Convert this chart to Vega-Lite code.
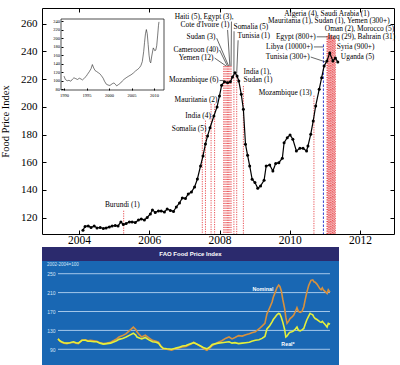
{
  "$schema": "https://vega.github.io/schema/vega-lite/v6.json",
  "background": "white",
  "padding": {"left": 0, "top": 7, "right": 0, "bottom": 0},
  "spacing": 0,
  "config": {
    "font": "Liberation Serif",
    "view": {"stroke": null},
    "axis": {"labelFont": "Liberation Serif", "titleFont": "Liberation Serif", "domainColor": "black", "tickColor": "black", "labelColor": "black", "titleColor": "black", "grid": false}
  },
  "datasets": {
    "main": [
      {"t": 2004.11, "v": 110.9}, {"t": 2004.17, "v": 113.7}, {"t": 2004.26, "v": 114.0}, {"t": 2004.34, "v": 112.9},
      {"t": 2004.43, "v": 114.0}, {"t": 2004.51, "v": 112.6}, {"t": 2004.60, "v": 112.9}, {"t": 2004.69, "v": 112.2},
      {"t": 2004.77, "v": 112.6}, {"t": 2004.86, "v": 113.3}, {"t": 2004.94, "v": 114.0}, {"t": 2005.03, "v": 114.4},
      {"t": 2005.11, "v": 114.0}, {"t": 2005.19, "v": 116.9}, {"t": 2005.26, "v": 115.1}, {"t": 2005.34, "v": 115.8},
      {"t": 2005.43, "v": 116.9}, {"t": 2005.51, "v": 116.9}, {"t": 2005.60, "v": 116.5}, {"t": 2005.69, "v": 118.3},
      {"t": 2005.77, "v": 119.1}, {"t": 2005.86, "v": 118.3}, {"t": 2005.94, "v": 120.1}, {"t": 2006.03, "v": 122.7},
      {"t": 2006.09, "v": 125.6}, {"t": 2006.17, "v": 123.8}, {"t": 2006.26, "v": 124.8}, {"t": 2006.34, "v": 124.8},
      {"t": 2006.43, "v": 124.1}, {"t": 2006.51, "v": 126.3}, {"t": 2006.60, "v": 125.2}, {"t": 2006.69, "v": 124.5},
      {"t": 2006.77, "v": 127.7}, {"t": 2006.86, "v": 130.6}, {"t": 2006.94, "v": 134.2}, {"t": 2007.03, "v": 133.9},
      {"t": 2007.11, "v": 137.1}, {"t": 2007.20, "v": 138.5}, {"t": 2007.29, "v": 142.2}, {"t": 2007.37, "v": 147.9},
      {"t": 2007.46, "v": 157.3}, {"t": 2007.53, "v": 164.5}, {"t": 2007.60, "v": 173.2}, {"t": 2007.66, "v": 179.0},
      {"t": 2007.73, "v": 184.9}, {"t": 2007.84, "v": 193.4}, {"t": 2007.93, "v": 199.9}, {"t": 2008.00, "v": 207.8},
      {"t": 2008.06, "v": 215.5}, {"t": 2008.14, "v": 218.1}, {"t": 2008.23, "v": 217.4}, {"t": 2008.31, "v": 218.1},
      {"t": 2008.37, "v": 221.5}, {"t": 2008.44, "v": 224.6}, {"t": 2008.50, "v": 222.2}, {"t": 2008.55, "v": 218.6},
      {"t": 2008.62, "v": 209.0}, {"t": 2008.68, "v": 198.2}, {"t": 2008.74, "v": 173.0}, {"t": 2008.80, "v": 165.0},
      {"t": 2008.86, "v": 157.3}, {"t": 2008.93, "v": 147.7}, {"t": 2009.01, "v": 145.3}, {"t": 2009.09, "v": 141.2},
      {"t": 2009.17, "v": 142.9}, {"t": 2009.27, "v": 147.0}, {"t": 2009.33, "v": 157.3}, {"t": 2009.43, "v": 158.0},
      {"t": 2009.52, "v": 153.7}, {"t": 2009.60, "v": 159.0}, {"t": 2009.69, "v": 159.7}, {"t": 2009.79, "v": 162.9},
      {"t": 2009.84, "v": 174.1}, {"t": 2009.93, "v": 177.7}, {"t": 2010.01, "v": 179.7}, {"t": 2010.09, "v": 176.6},
      {"t": 2010.19, "v": 168.1}, {"t": 2010.29, "v": 170.1}, {"t": 2010.38, "v": 170.1}, {"t": 2010.48, "v": 168.1},
      {"t": 2010.52, "v": 171.7}, {"t": 2010.60, "v": 180.2}, {"t": 2010.67, "v": 189.8}, {"t": 2010.74, "v": 200.6},
      {"t": 2010.84, "v": 212.6}, {"t": 2010.91, "v": 221.0}, {"t": 2010.98, "v": 229.5}, {"t": 2011.06, "v": 233.1},
      {"t": 2011.14, "v": 238.8}, {"t": 2011.23, "v": 233.1}, {"t": 2011.30, "v": 235.2}, {"t": 2011.37, "v": 232.3}
    ],
    "ev": [
      {"t": 2005.27, "top": 125},
      {"t": 2007.51, "top": 181}, {"t": 2007.60, "top": 190}, {"t": 2007.76, "top": 202}, {"t": 2007.86, "top": 202},
      {"t": 2008.12, "top": 229.4}, {"t": 2008.155, "top": 229.4}, {"t": 2008.19, "top": 229.4}, {"t": 2008.225, "top": 229.4},
      {"t": 2008.26, "top": 229.4}, {"t": 2008.295, "top": 229.4}, {"t": 2008.33, "top": 229.4},
      {"t": 2008.41, "top": 223}, {"t": 2008.49, "top": 223}, {"t": 2008.68, "top": 215},
      {"t": 2010.69, "top": 208},
      {"t": 2011.06, "top": 251}, {"t": 2011.08, "top": 251}, {"t": 2011.10, "top": 252}, {"t": 2011.12, "top": 251},
      {"t": 2011.14, "top": 252}, {"t": 2011.16, "top": 251}, {"t": 2011.18, "top": 252}, {"t": 2011.20, "top": 251},
      {"t": 2011.22, "top": 250}, {"t": 2011.24, "top": 251}, {"t": 2011.26, "top": 250}, {"t": 2011.28, "top": 249},
      {"t": 2011.30, "top": 248}
    ],
    "blue": [{"t": 2010.96, "top": 245}],
    "ld": [
      {"t1": 2008.34, "v1": 261.5, "t2": 2008.33, "v2": 229.4},
      {"t1": 2008.23, "v1": 255.5, "t2": 2008.295, "v2": 229.4},
      {"t1": 2007.92, "v1": 249.5, "t2": 2008.26, "v2": 229.4},
      {"t1": 2008.0, "v1": 241.0, "t2": 2008.225, "v2": 229.4},
      {"t1": 2007.86, "v1": 235.2, "t2": 2008.19, "v2": 229.4},
      {"t1": 2008.0, "v1": 219.0, "t2": 2008.12, "v2": 219.0},
      {"t1": 2008.414, "v1": 254.5, "t2": 2008.41, "v2": 224.0},
      {"t1": 2008.53, "v1": 248.0, "t2": 2008.49, "v2": 224.0},
      {"t1": 2010.77, "v1": 250.5, "t2": 2011.07, "v2": 250.5},
      {"t1": 2010.69, "v1": 243.2, "t2": 2010.96, "v2": 243.2},
      {"t1": 2010.60, "v1": 235.9, "t2": 2011.03, "v2": 232.3}
    ],
    "labR": [
      {"label": "Haiti (5), Egypt (3),", "t": 2008.40, "v": 264.8},
      {"label": "Cote d'Ivoire (1)", "t": 2008.286, "v": 258.8},
      {"label": "Sudan (3)", "t": 2007.886, "v": 250.7},
      {"label": "Cameroon (40)", "t": 2007.971, "v": 241.0},
      {"label": "Yemen (12)", "t": 2007.829, "v": 235.2},
      {"label": "Mozambique (6)", "t": 2007.971, "v": 219.0},
      {"label": "Mauritania (2)", "t": 2007.943, "v": 204.9},
      {"label": "India (4)", "t": 2007.757, "v": 193.4},
      {"label": "Somalia (5)", "t": 2007.629, "v": 184.0},
      {"label": "Egypt (800+)", "t": 2010.743, "v": 250.6},
      {"label": "Libya (10000+)", "t": 2010.657, "v": 243.2},
      {"label": "Tunisia (300+)", "t": 2010.571, "v": 235.9},
      {"label": "Mozambique (13)", "t": 2010.63, "v": 210.0}
    ],
    "labL": [
      {"label": "Somalia (5)", "t": 2008.40, "v": 257.8},
      {"label": "Tunisia (1)", "t": 2008.514, "v": 251.1},
      {"label": "India (1),", "t": 2008.686, "v": 225.1},
      {"label": "Sudan (1)", "t": 2008.686, "v": 219.1},
      {"label": "Oman (2), Morocco (5)", "t": 2011.0, "v": 255.9},
      {"label": "Iraq (29), Bahrain (31)", "t": 2011.086, "v": 250.1},
      {"label": "Syria (900+)", "t": 2011.343, "v": 243.2},
      {"label": "Uganda (5)", "t": 2011.457, "v": 235.9}
    ],
    "labC": [
      {"label": "Algeria (4), Saudi Arabia (1)", "t": 2011.057, "v": 267.2},
      {"label": "Mauritania (1), Sudan (1), Yemen (300+)", "t": 2011.114, "v": 261.8},
      {"label": "Burundi (1)", "t": 2005.229, "v": 129.2}
    ],
    "inset": [
      {"t": 1990.0, "v": 111}, {"t": 1990.3, "v": 103}, {"t": 1990.7, "v": 100}, {"t": 1991.1, "v": 101},
      {"t": 1991.5, "v": 99}, {"t": 1991.9, "v": 104}, {"t": 1992.2, "v": 107}, {"t": 1992.6, "v": 105},
      {"t": 1993.0, "v": 103}, {"t": 1993.4, "v": 106}, {"t": 1993.8, "v": 104}, {"t": 1994.1, "v": 102},
      {"t": 1994.5, "v": 106}, {"t": 1994.9, "v": 110}, {"t": 1995.2, "v": 115}, {"t": 1995.6, "v": 121},
      {"t": 1996.0, "v": 128}, {"t": 1996.3, "v": 138}, {"t": 1996.6, "v": 130}, {"t": 1996.9, "v": 124},
      {"t": 1997.2, "v": 122}, {"t": 1997.6, "v": 119}, {"t": 1997.9, "v": 117}, {"t": 1998.3, "v": 112},
      {"t": 1998.7, "v": 106}, {"t": 1999.0, "v": 99}, {"t": 1999.4, "v": 92}, {"t": 1999.8, "v": 90},
      {"t": 2000.2, "v": 89}, {"t": 2000.7, "v": 93}, {"t": 2001.1, "v": 95}, {"t": 2001.4, "v": 92},
      {"t": 2001.7, "v": 88}, {"t": 2002.1, "v": 91}, {"t": 2002.6, "v": 95}, {"t": 2003.0, "v": 100},
      {"t": 2003.3, "v": 103}, {"t": 2003.8, "v": 107}, {"t": 2004.4, "v": 111}, {"t": 2004.9, "v": 114},
      {"t": 2005.4, "v": 118}, {"t": 2005.9, "v": 123}, {"t": 2006.4, "v": 127}, {"t": 2006.8, "v": 131},
      {"t": 2007.1, "v": 136}, {"t": 2007.4, "v": 145}, {"t": 2007.7, "v": 168}, {"t": 2007.9, "v": 190},
      {"t": 2008.1, "v": 210}, {"t": 2008.3, "v": 220}, {"t": 2008.5, "v": 210}, {"t": 2008.7, "v": 185},
      {"t": 2008.9, "v": 160}, {"t": 2009.1, "v": 145}, {"t": 2009.27, "v": 142}, {"t": 2009.5, "v": 158},
      {"t": 2009.84, "v": 177}, {"t": 2010.0, "v": 174}, {"t": 2010.2, "v": 170}, {"t": 2010.4, "v": 172},
      {"t": 2010.6, "v": 182}, {"t": 2010.8, "v": 205}, {"t": 2011.0, "v": 230}, {"t": 2011.1, "v": 238}
    ],
    "fao": [
      {"t": 1990.0, "n": 112, "r": 112}, {"t": 1990.15, "n": 108, "r": 108}, {"t": 1990.3, "n": 105, "r": 106},
      {"t": 1990.5, "n": 103, "r": 104}, {"t": 1990.75, "n": 102, "r": 103}, {"t": 1991.0, "n": 104, "r": 104},
      {"t": 1991.3, "n": 105, "r": 106}, {"t": 1991.5, "n": 103, "r": 104}, {"t": 1991.7, "n": 102, "r": 103},
      {"t": 1992.0, "n": 109, "r": 109}, {"t": 1992.3, "n": 110, "r": 109}, {"t": 1992.5, "n": 108, "r": 107},
      {"t": 1992.7, "n": 109, "r": 107}, {"t": 1993.0, "n": 108, "r": 106}, {"t": 1993.25, "n": 107, "r": 106},
      {"t": 1993.5, "n": 104, "r": 103}, {"t": 1993.8, "n": 102, "r": 101}, {"t": 1994.1, "n": 103, "r": 102},
      {"t": 1994.4, "n": 105, "r": 103}, {"t": 1994.7, "n": 109, "r": 106}, {"t": 1994.9, "n": 112, "r": 108},
      {"t": 1995.1, "n": 116, "r": 111}, {"t": 1995.4, "n": 119, "r": 113}, {"t": 1995.7, "n": 123, "r": 116},
      {"t": 1996.0, "n": 130, "r": 120}, {"t": 1996.3, "n": 137, "r": 124}, {"t": 1996.5, "n": 132, "r": 120},
      {"t": 1996.6, "n": 127, "r": 116}, {"t": 1996.8, "n": 121, "r": 114}, {"t": 1997.0, "n": 116, "r": 112},
      {"t": 1997.3, "n": 120, "r": 115}, {"t": 1997.6, "n": 114, "r": 110}, {"t": 1997.9, "n": 109, "r": 106},
      {"t": 1998.2, "n": 107, "r": 105}, {"t": 1998.4, "n": 105, "r": 103}, {"t": 1998.6, "n": 97, "r": 96},
      {"t": 1998.8, "n": 91, "r": 92}, {"t": 1999.1, "n": 90, "r": 91}, {"t": 1999.5, "n": 88, "r": 90},
      {"t": 1999.8, "n": 91, "r": 92}, {"t": 2000.1, "n": 93, "r": 94}, {"t": 2000.4, "n": 95, "r": 97},
      {"t": 2000.7, "n": 96, "r": 98}, {"t": 2000.9, "n": 98.5, "r": 100}, {"t": 2001.2, "n": 102, "r": 103},
      {"t": 2001.35, "n": 105, "r": 104}, {"t": 2001.6, "n": 101, "r": 101}, {"t": 2002.0, "n": 95, "r": 96},
      {"t": 2002.2, "n": 91, "r": 93}, {"t": 2002.45, "n": 88, "r": 91}, {"t": 2002.7, "n": 93, "r": 95},
      {"t": 2002.9, "n": 98, "r": 100}, {"t": 2003.2, "n": 102, "r": 102}, {"t": 2003.4, "n": 105, "r": 103},
      {"t": 2003.7, "n": 108, "r": 104}, {"t": 2004.0, "n": 113, "r": 105}, {"t": 2004.3, "n": 116, "r": 106},
      {"t": 2004.55, "n": 112, "r": 103}, {"t": 2004.8, "n": 115, "r": 104}, {"t": 2005.1, "n": 119, "r": 102},
      {"t": 2005.4, "n": 118, "r": 103}, {"t": 2005.7, "n": 121, "r": 104}, {"t": 2006.0, "n": 123, "r": 105},
      {"t": 2006.2, "n": 125, "r": 107}, {"t": 2006.5, "n": 127, "r": 109}, {"t": 2006.8, "n": 133, "r": 110},
      {"t": 2007.06, "n": 139, "r": 113}, {"t": 2007.3, "n": 145, "r": 117}, {"t": 2007.47, "n": 165, "r": 133},
      {"t": 2007.7, "n": 178, "r": 140}, {"t": 2007.9, "n": 190, "r": 148}, {"t": 2008.0, "n": 200, "r": 153},
      {"t": 2008.15, "n": 210, "r": 158}, {"t": 2008.3, "n": 220, "r": 163}, {"t": 2008.45, "n": 226, "r": 166},
      {"t": 2008.55, "n": 223, "r": 165}, {"t": 2008.67, "n": 214, "r": 158}, {"t": 2008.8, "n": 195, "r": 147},
      {"t": 2008.95, "n": 176, "r": 132}, {"t": 2009.05, "n": 158, "r": 116}, {"t": 2009.15, "n": 145, "r": 118},
      {"t": 2009.3, "n": 150, "r": 124}, {"t": 2009.4, "n": 155, "r": 126}, {"t": 2009.55, "n": 158, "r": 127},
      {"t": 2009.7, "n": 162, "r": 129}, {"t": 2009.85, "n": 170, "r": 133}, {"t": 2009.98, "n": 178, "r": 137},
      {"t": 2010.1, "n": 170, "r": 130}, {"t": 2010.25, "n": 168, "r": 129}, {"t": 2010.4, "n": 170, "r": 131},
      {"t": 2010.55, "n": 180, "r": 134}, {"t": 2010.67, "n": 195, "r": 143}, {"t": 2010.8, "n": 210, "r": 152},
      {"t": 2010.96, "n": 225, "r": 160}, {"t": 2011.08, "n": 232, "r": 166}, {"t": 2011.15, "n": 236, "r": 165},
      {"t": 2011.3, "n": 237, "r": 163}, {"t": 2011.4, "n": 233, "r": 158}, {"t": 2011.5, "n": 232, "r": 155},
      {"t": 2011.65, "n": 228, "r": 153}, {"t": 2011.8, "n": 222, "r": 150}, {"t": 2011.9, "n": 218, "r": 148},
      {"t": 2012.0, "n": 216, "r": 147}, {"t": 2012.1, "n": 220, "r": 149}, {"t": 2012.2, "n": 215, "r": 146},
      {"t": 2012.35, "n": 212, "r": 142}, {"t": 2012.5, "n": 208, "r": 137}, {"t": 2012.6, "n": 216, "r": 145},
      {"t": 2012.74, "n": 211, "r": 143}
    ],
    "grid": [{"g": 90}, {"g": 130}, {"g": 170}, {"g": 210}, {"g": 250}],
    "faoText": [
      {"label": "Nominal", "t": 2007.14, "v": 217.6},
      {"label": "Real*", "t": 2009.23, "v": 101.2}
    ],
    "faoSub": [{"label": "2002-2004=100", "t": 1989.08, "v": 268.4}],
    "head": [{"label": "FAO Food Price Index"}]
  },
  "vconcat": [
    {
      "width": 352,
      "height": 226,
      "view": {"stroke": "black", "strokeWidth": 1},
      "resolve": {"scale": {"x": "independent", "y": "independent"}},
      "layer": [
        {
          "layer": [
            {
              "data": {"name": "ev"},
              "mark": {"type": "rule", "stroke": "#e3262b", "strokeWidth": 0.8, "strokeDash": [1.2, 1.2]},
              "encoding": {
                "x": {"field": "t", "type": "quantitative", "scale": {"domain": [2002.943, 2012.971], "nice": false, "zero": false}},
                "y": {"field": "top", "type": "quantitative", "scale": {"domain": [108.2, 271.3], "nice": false, "zero": false}},
                "y2": {"datum": 108.2}
              }
            },
            {
              "data": {"name": "blue"},
              "mark": {"type": "rule", "stroke": "#2f3fd0", "strokeWidth": 1, "strokeDash": [2.5, 1.5]},
              "encoding": {
                "x": {"field": "t", "type": "quantitative"},
                "y": {"field": "top", "type": "quantitative"},
                "y2": {"datum": 108.2}
              }
            },
            {
              "data": {"name": "ld"},
              "mark": {"type": "rule", "stroke": "black", "strokeWidth": 0.6},
              "encoding": {
                "x": {"field": "t1", "type": "quantitative"},
                "y": {"field": "v1", "type": "quantitative"},
                "x2": {"field": "t2"},
                "y2": {"field": "v2"}
              }
            },
            {
              "data": {"name": "labR"},
              "mark": {"type": "text", "align": "right", "baseline": "middle", "font": "Liberation Serif", "fontSize": 7.4, "color": "black"},
              "encoding": {
                "x": {"field": "t", "type": "quantitative"},
                "y": {"field": "v", "type": "quantitative"},
                "text": {"field": "label"}
              }
            },
            {
              "data": {"name": "labL"},
              "mark": {"type": "text", "align": "left", "baseline": "middle", "font": "Liberation Serif", "fontSize": 7.4, "color": "black"},
              "encoding": {
                "x": {"field": "t", "type": "quantitative"},
                "y": {"field": "v", "type": "quantitative"},
                "text": {"field": "label"}
              }
            },
            {
              "data": {"name": "labC"},
              "mark": {"type": "text", "align": "center", "baseline": "middle", "font": "Liberation Serif", "fontSize": 7.4, "color": "black"},
              "encoding": {
                "x": {"field": "t", "type": "quantitative"},
                "y": {"field": "v", "type": "quantitative"},
                "text": {"field": "label"}
              }
            },
            {
              "data": {"name": "main"},
              "mark": {"type": "line", "stroke": "black", "strokeWidth": 1.2},
              "encoding": {
                "x": {"field": "t", "type": "quantitative",
                  "axis": {"orient": "bottom", "values": [2004, 2006, 2008, 2010, 2012], "tickCount": 30, "format": "d", "tickSize": -4, "labelPadding": 13.5, "labelBaseline": "alphabetic", "labelFontSize": 11.5, "labelOverlap": false, "domain": false, "title": null}},
                "y": {"field": "v", "type": "quantitative",
                  "axis": {"orient": "left", "values": [120, 140, 160, 180, 200, 220, 240, 260], "tickCount": 30, "tickSize": -4, "labelPadding": 9, "labelFontSize": 11, "labelOverlap": false, "domain": false, "title": "Food Price Index", "titleFontSize": 10.5, "titleFontWeight": "normal", "titlePadding": 10}}
              }
            },
            {
              "data": {"name": "main"},
              "mark": {"type": "point", "filled": true, "color": "black", "size": 9, "opacity": 1},
              "encoding": {
                "x": {"field": "t", "type": "quantitative"},
                "y": {"field": "v", "type": "quantitative"}
              }
            }
          ]
        },
        {
          "data": {"name": "main"},
          "mark": {"type": "point", "opacity": 0},
          "encoding": {
            "x": {"field": "t", "type": "quantitative", "scale": {"domain": [2002.943, 2012.971], "nice": false, "zero": false},
              "axis": {"orient": "top", "values": [2004, 2006, 2008, 2010, 2012], "tickCount": 30, "labels": false, "tickSize": -4, "domain": false, "title": null}},
            "y": {"field": "v", "type": "quantitative", "scale": {"domain": [108.2, 271.3], "nice": false, "zero": false},
              "axis": {"orient": "right", "values": [120, 140, 160, 180, 200, 220, 240, 260], "tickCount": 30, "labels": false, "tickSize": -4, "domain": false, "title": null}}
          }
        },
        {
          "layer": [
            {
              "data": {"values": [{}]},
              "mark": {"type": "rect", "filled": false, "stroke": "black", "strokeWidth": 0.7},
              "encoding": {
                "x": {"datum": 1989.33, "type": "quantitative", "scale": {"domain": [1989.33, 2012.22], "range": [19, 122], "nice": false, "zero": false}},
                "x2": {"datum": 2012.22},
                "y": {"datum": 78.4, "type": "quantitative", "scale": {"domain": [78.4, 244.7], "range": [82, 11], "nice": false, "zero": false}},
                "y2": {"datum": 244.7}
              }
            },
            {
              "data": {"name": "inset"},
              "mark": {"type": "line", "stroke": "#222222", "strokeWidth": 0.6},
              "encoding": {
                "x": {"field": "t", "type": "quantitative",
                  "axis": {"orient": "bottom", "offset": -144, "values": [1990, 1995, 2000, 2005, 2010], "tickCount": 30, "format": "d", "tickSize": -2, "labelPadding": 4, "labelFontSize": 4.5, "labelOverlap": false, "domain": false, "title": null}},
                "y": {"field": "v", "type": "quantitative",
                  "axis": {"orient": "left", "offset": -19, "values": [80, 100, 120, 140, 160, 180, 200, 220, 240], "tickCount": 30, "tickSize": -2, "labelPadding": 3.5, "labelFontSize": 4.5, "labelOverlap": false, "domain": false, "title": null}}
              }
            }
          ]
        }
      ]
    },
    {
      "width": 297,
      "height": 14,
      "view": {"fill": "#2b2a6d", "stroke": null},
      "data": {"name": "head"},
      "mark": {"type": "text", "color": "white", "font": "Liberation Sans", "fontWeight": "bold", "fontSize": 6, "baseline": "middle", "align": "center"},
      "encoding": {"text": {"field": "label"}}
    },
    {
      "width": 297,
      "height": 106,
      "view": {"fill": "#1967b3", "stroke": null},
      "layer": [
        {
          "data": {"name": "grid"},
          "mark": {"type": "rule", "stroke": "#b4d3f1", "strokeWidth": 0.9},
          "encoding": {
            "x": {"datum": 1990.0, "type": "quantitative", "scale": {"domain": [1988.662, 2013.495], "nice": false, "zero": false},
              "axis": {"orient": "bottom", "values": [1990, 1991, 1992, 1993, 1994, 1995, 1996, 1997, 1998, 1999, 2000, 2001, 2002, 2003, 2004, 2005, 2006, 2007, 2008, 2009, 2010, 2011, 2012], "tickCount": 50, "labels": false, "domain": false, "tickSize": -2.5, "tickColor": "#a9cbee", "title": null}},
            "x2": {"datum": 2012.74},
            "y": {"field": "g", "type": "quantitative", "scale": {"domain": [52.5, 276.9], "nice": false, "zero": false},
              "axis": {"orient": "left", "offset": -14, "values": [90, 130, 170, 210, 250], "tickCount": 30, "domain": false, "ticks": false, "labelPadding": 1, "labelOverlap": false, "labelFont": "Liberation Sans", "labelFontSize": 5, "labelColor": "#d3e4f6", "title": null}}
          }
        },
        {
          "data": {"name": "fao"},
          "mark": {"type": "line", "stroke": "#d8913d", "strokeWidth": 1.6},
          "encoding": {
            "x": {"field": "t", "type": "quantitative"},
            "y": {"field": "n", "type": "quantitative"}
          }
        },
        {
          "data": {"name": "fao"},
          "mark": {"type": "line", "stroke": "#e4f03c", "strokeWidth": 1.6},
          "encoding": {
            "x": {"field": "t", "type": "quantitative"},
            "y": {"field": "r", "type": "quantitative"}
          }
        },
        {
          "data": {"name": "faoText"},
          "mark": {"type": "text", "color": "white", "font": "Liberation Sans", "fontWeight": "bold", "fontSize": 5.3, "baseline": "middle", "align": "center"},
          "encoding": {
            "x": {"field": "t", "type": "quantitative"},
            "y": {"field": "v", "type": "quantitative"},
            "text": {"field": "label"}
          }
        },
        {
          "data": {"name": "faoSub"},
          "mark": {"type": "text", "color": "#d3e4f6", "font": "Liberation Sans", "fontSize": 4.5, "baseline": "middle", "align": "left"},
          "encoding": {
            "x": {"field": "t", "type": "quantitative"},
            "y": {"field": "v", "type": "quantitative"},
            "text": {"field": "label"}
          }
        }
      ]
    }
  ]
}
